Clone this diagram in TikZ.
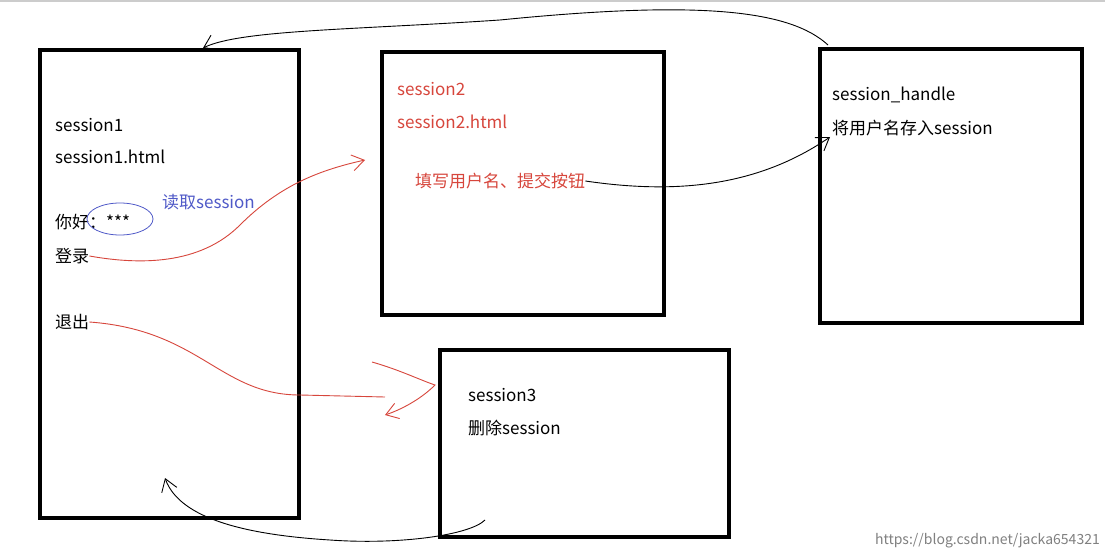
\documentclass[tikz,border=0pt]{standalone}
\usepackage{fontspec}
\setmainfont{Noto Sans CJK SC}
\usetikzlibrary{arrows.meta}
\definecolor{rd}{RGB}{215,70,60}
\definecolor{bl}{RGB}{80,90,200}
\begin{document}
\begin{tikzpicture}[x=1pt,y=-1pt,
  box/.style={draw,line width=4pt},
  txt/.style={anchor=west,font=\fontsize{17}{20}\selectfont,inner sep=0pt},
  conn/.style={line width=0.9pt,-{Straight Barb[length=12pt,width=16pt]}}]
\useasboundingbox[fill=white] (0,0) rectangle (1105,559);
\draw[gray!40,line width=2pt] (0,1) -- (1105,1);
\node[box,minimum width=259pt,minimum height=468pt,anchor=north west] (b1) at (38,48) {};
\node[box,minimum width=282pt,minimum height=263pt,anchor=north west] (b2) at (380,50) {};
\node[box,minimum width=262pt,minimum height=274pt,anchor=north west] (b3) at (818,47) {};
\node[box,minimum width=289pt,minimum height=187pt,anchor=north west] (b4) at (438,348) {};
\node[txt] (s1) at (55,125) {session1};
\node[txt] (s1h) at (55,157) {session1.html};
\node[txt] (nh) at (55,222) {你好：***};
\node[txt] (dl) at (55,256) {登录};
\node[txt] (tc) at (55,322) {退出};
\draw[bl,line width=0.8pt] (120,219) ellipse (33 and 16);
\node[txt,text=bl] (dq) at (162,202) {读取session};
\node[txt,text=rd] (s2) at (397,89) {session2};
\node[txt,text=rd] (s2h) at (397,122) {session2.html};
\node[txt,text=rd] (tx) at (415,181) {填写用户名、提交按钮};
\node[txt] (sh) at (832,95) {session\_handle};
\node[txt] (jy) at (832,128) {将用户名存入session};
\node[txt] (s3) at (468,395) {session3};
\node[txt] (sc) at (468,428) {删除session};
\node[anchor=east,text=gray,font=\fontsize{14}{16}\selectfont,inner sep=0pt] (wm) at (1100,541) {https://blog.csdn.net/jacka654321};
\coordinate (t2) at (365,160);
\coordinate (t3) at (830,137);
\coordinate (t4) at (435,385);
\coordinate (t1) at (203,48);
\coordinate (t5) at (165,478);
\coordinate (f5) at (485,520);
\coordinate (f1) at (828,45);
\draw[rd,conn] (dl.east) .. controls (140,265) and (200,265) .. (240,225) .. controls (280,185) and (320,170) .. (t2);
\draw[conn] (tx.east) .. controls (680,195) and (760,185) .. (t3);
\draw[rd,line width=0.9pt] (tc.east) .. controls (200,330) and (220,395) .. (300,395) -- (385,397);
\draw[rd,conn] (372,362) .. controls (400,370) and (420,380) .. (t4) .. controls (420,400) and (400,410) .. (385,415);
\draw[conn] (f1) .. controls (790,10) and (700,0) .. (500,20) .. controls (350,30) and (240,30) .. (t1);
\draw[conn] (f5) .. controls (470,535) and (400,545) .. (330,540) .. controls (250,535) and (180,520) .. (t5);
\end{tikzpicture}
\end{document}
